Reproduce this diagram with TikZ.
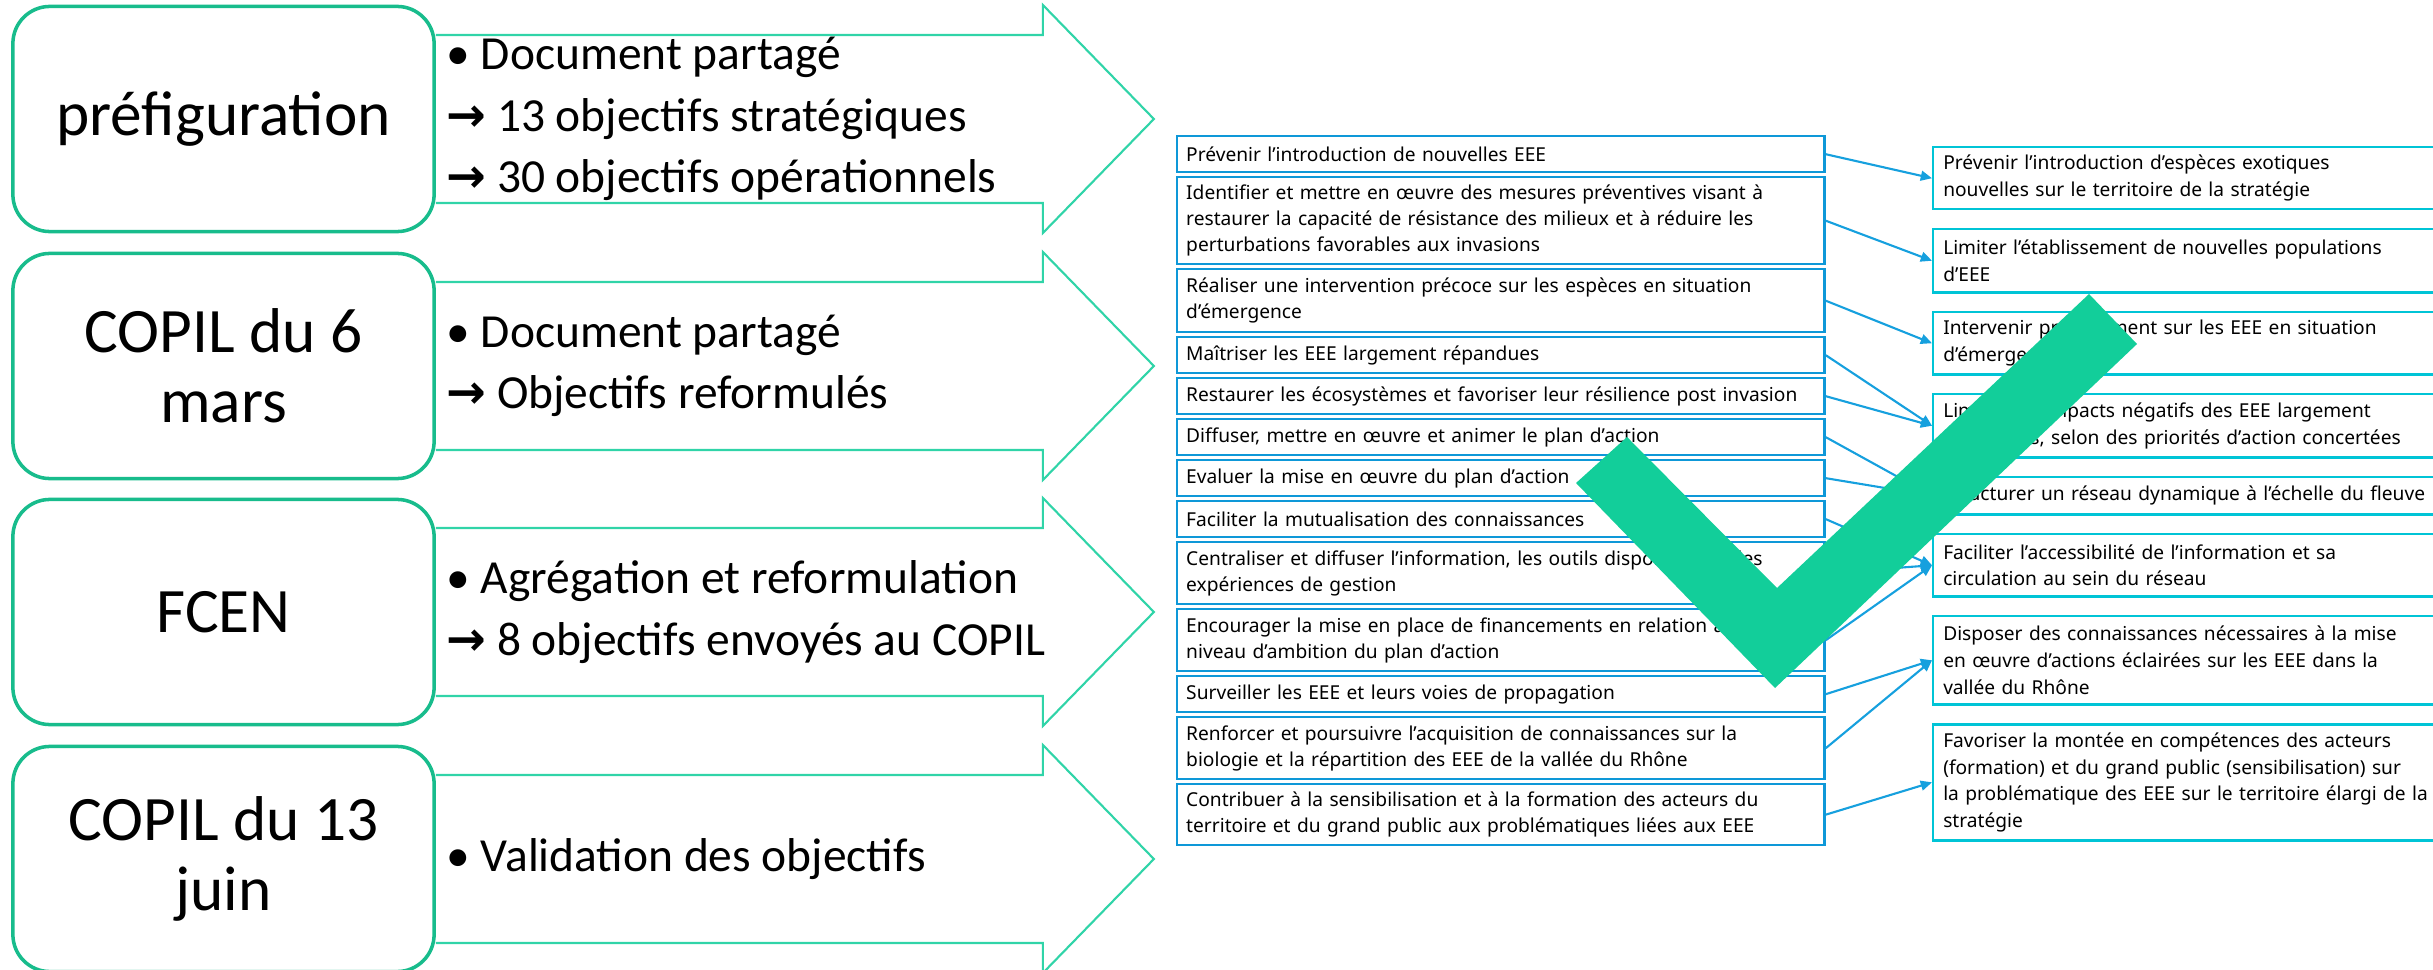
\documentclass[tikz,border=0pt]{standalone}
\usepackage{fontspec}
\setmainfont{Carlito}
\newfontfamily\listfont{Noto Sans}
\newfontfamily\arrowfont{DejaVu Sans}
\usepackage{xcolor}
\usepackage{tikz}
\usetikzlibrary{arrows.meta, positioning}

\definecolor{stageGreen}{RGB}{24,188,140}
\definecolor{chevGreen}{RGB}{48,212,168}
\definecolor{objBlue}{RGB}{14,152,216}
\definecolor{goalCyan}{RGB}{0,196,214}
\definecolor{linkBlue}{RGB}{22,160,222}
\definecolor{checkGreen}{RGB}{18,206,154}
\newcommand{\toarrow}{{\arrowfont\bfseries →}}

\begin{document}
\begin{tikzpicture}[
  x=0.01cm, y=-0.01cm,
  stageNode/.style={rectangle, draw=stageGreen, line width=1pt, rounded corners=0.37cm, fill=white, minimum width=4.21cm, minimum height=2.25cm, align=center, font=\fontsize{18}{20}\selectfont},
  stageText/.style={inner sep=0pt, align=left, font=\fontsize{13.5}{17.4}\selectfont},
  chevLine/.style={draw=chevGreen, line width=0.6pt, line join=miter},
  objNode/.style={rectangle, draw=objBlue, line width=0.7pt, fill=white, text width=6.29cm, inner xsep=0.09cm, inner ysep=1pt, align=left, font=\listfont\fontsize{5.45}{7.4}\selectfont},
  goalNode/.style={rectangle, draw=goalCyan, line width=0.7pt, fill=white, text width=6cm, inner xsep=0.1cm, inner ysep=1pt, align=left, font=\listfont\fontsize{5.45}{7.6}\selectfont},
  relLine/.style={draw=linkBlue, line width=0.6pt, -{Triangle[length=3.2pt, width=2.8pt]}}
]
  \useasboundingbox (0,0) rectangle (2433,970);
  \clip (0,0) rectangle (2433,970);

  \node [stageNode] (pref) at (223.5,119) {préfiguration};
  \node [stageNode] (mars) at (223.5,366) {COPIL du 6\\mars};
  \node [stageNode] (fcen) at (223.5,612) {FCEN};
  \node [stageNode] (juin) at (223.5,859) {COPIL du 13\\juin};

  \foreach \s in {pref, mars, fcen, juin}
    \draw [chevLine] (\s.east) ++(0,-84) -- ++(607,0) -- ++(0,-30) -- ++(111,114) -- ++(-111,114) -- ++(0,-30) -- ++(-607,0);

  \node [stageText] (prefList) [right=0.1cm of pref] {\textbullet\ Document partagé\\\toarrow\ 13 objectifs stratégiques\\\toarrow\ 30 objectifs opérationnels};
  \node [stageText] (marsList) [right=0.1cm of mars] {\textbullet\ Document partagé\\\toarrow\ Objectifs reformulés};
  \node [stageText] (fcenList) [right=0.1cm of fcen] {\textbullet\ Agrégation et reformulation\\\toarrow\ 8 objectifs envoyés au COPIL};
  \node [stageText] (juinList) [right=0.1cm of juin] {\textbullet\ Validation des objectifs};

  \node [objNode, minimum height=0.36cm, anchor=north west] (obj1) at (1176,135) {Prévenir l’introduction de nouvelles EEE};
  \node [objNode, minimum height=0.87cm] (obj2) [below=0.025cm of obj1] {Identifier et mettre en œuvre des mesures préventives visant à\\restaurer la capacité de résistance des milieux et à réduire les\\perturbations favorables aux invasions};
  \node [objNode, minimum height=0.63cm] (obj3) [below=0.025cm of obj2] {Réaliser une intervention précoce sur les espèces en situation\\d’émergence};
  \node [objNode, minimum height=0.36cm] (obj4) [below=0.025cm of obj3] {Maîtriser les EEE largement répandues};
  \node [objNode, minimum height=0.36cm] (obj5) [below=0.025cm of obj4] {Restaurer les écosystèmes et favoriser leur résilience post invasion};
  \node [objNode, minimum height=0.36cm] (obj6) [below=0.025cm of obj5] {Diffuser, mettre en œuvre et animer le plan d’action};
  \node [objNode, minimum height=0.36cm] (obj7) [below=0.025cm of obj6] {Evaluer la mise en œuvre du plan d’action};
  \node [objNode, minimum height=0.36cm] (obj8) [below=0.025cm of obj7] {Faciliter la mutualisation des connaissances};
  \node [objNode, minimum height=0.62cm] (obj9) [below=0.025cm of obj8] {Centraliser et diffuser l’information, les outils disponibles et les\\expériences de gestion};
  \node [objNode, minimum height=0.62cm] (obj10) [below=0.025cm of obj9] {Encourager la mise en place de financements en relation avec le\\niveau d’ambition du plan d’action};
  \node [objNode, minimum height=0.36cm] (obj11) [below=0.025cm of obj10] {Surveiller les EEE et leurs voies de propagation};
  \node [objNode, minimum height=0.62cm] (obj12) [below=0.025cm of obj11] {Renforcer et poursuivre l’acquisition de connaissances sur la\\biologie et la répartition des EEE de la vallée du Rhône};
  \node [objNode, minimum height=0.61cm] (obj13) [below=0.025cm of obj12] {Contribuer à la sensibilisation et à la formation des acteurs du\\territoire et du grand public aux problématiques liées aux EEE};

  \node [goalNode, minimum height=0.62cm, anchor=north west] (goal1) at (1932,146) {Prévenir l’introduction d’espèces exotiques\\nouvelles sur le territoire de la stratégie};
  \node [goalNode, minimum height=0.63cm] (goal2) [below=0.175cm of goal1] {Limiter l’établissement de nouvelles populations\\d’EEE};
  \node [goalNode, minimum height=0.62cm] (goal3) [below=0.175cm of goal2] {Intervenir précocement sur les EEE en situation\\d’émergence};
  \node [goalNode, minimum height=0.63cm] (goal4) [below=0.175cm of goal3] {Limiter les impacts négatifs des EEE largement\\répandues, selon des priorités d’action concertées};
  \node [goalNode, minimum height=0.37cm] (goal5) [below=0.175cm of goal4] {Structurer un réseau dynamique à l’échelle du fleuve};
  \node [goalNode, minimum height=0.62cm] (goal6) [below=0.175cm of goal5] {Faciliter l’accessibilité de l’information et sa\\circulation au sein du réseau};
  \node [goalNode, minimum height=0.88cm] (goal7) [below=0.175cm of goal6] {Disposer des connaissances nécessaires à la mise\\en œuvre d’actions éclairées sur les EEE dans la\\vallée du Rhône};
  \node [goalNode, minimum height=1.16cm] (goal8) [below=0.175cm of goal7] {Favoriser la montée en compétences des acteurs\\(formation) et du grand public (sensibilisation) sur\\la problématique des EEE sur le territoire élargi de la\\stratégie};

  \draw [relLine] (obj1.east) -- (goal1.west);
  \draw [relLine] (obj2.east) -- (goal2.west);
  \draw [relLine] (obj3.east) -- (goal3.west);
  \draw [relLine] (obj4.east) -- (goal4.west);
  \draw [relLine] (obj5.east) -- (goal4.west);
  \draw [relLine] (obj6.east) -- (goal5.west);
  \draw [relLine] (obj7.east) -- (goal5.west);
  \draw [relLine] (obj8.east) -- (goal6.west);
  \draw [relLine] (obj9.east) -- (goal6.west);
  \draw [relLine] (obj10.east) -- (goal6.west);
  \draw [relLine] (obj11.east) -- (goal7.west);
  \draw [relLine] (obj12.east) -- (goal7.west);
  \draw [relLine] (obj13.east) -- (goal8.west);

  \fill [checkGreen] (1576,483) -- (1627,437) -- (1777,588) -- (2089,294) -- (2137,344) -- (1775,688) -- cycle;
\end{tikzpicture}
\end{document}
